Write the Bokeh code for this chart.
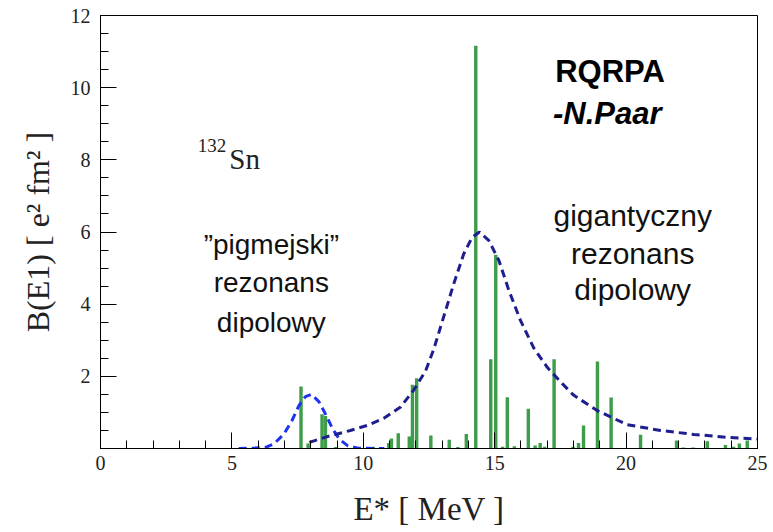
from bokeh.plotting import figure
from bokeh.models import Range1d, FixedTicker, ColumnDataSource
from bokeh.core.properties import value
from bokeh.embed import file_html
from bokeh.resources import INLINE

# RQRPA strength distribution (stick spectrum)
bar_E = [7.63, 7.90, 8.43, 8.56, 8.95, 10.38, 10.71, 10.97, 11.07, 11.33, 11.75, 11.87,
         12.03, 12.57, 13.27, 13.60, 13.92, 14.28, 14.85, 15.04, 15.30, 15.48, 15.75,
         16.28, 16.54, 16.73, 16.90, 17.26, 17.98, 18.19, 18.38, 18.91, 19.43, 20.55,
         21.92, 22.18, 22.55, 23.09, 23.78, 24.09, 24.31, 24.61]
bar_B = [1.72, 0.14, 0.95, 0.90, 0.04, 0.05, 0.04, 0.15, 0.28, 0.42, 0.33, 1.77,
         1.95, 0.36, 0.24, 0.04, 0.40, 11.16, 2.47, 5.37, 0.05, 1.42, 0.06,
         1.10, 0.08, 0.15, 0.05, 2.47, 0.05, 0.15, 0.64, 2.41, 1.41, 0.38,
         0.22, 0.03, 0.03, 0.20, 0.10, 0.05, 0.14, 0.22]

# pygmy dipole resonance envelope
pdr_E = [5.26, 5.83, 6.28, 6.60, 6.98, 7.29, 7.55, 7.80, 8.02, 8.31, 8.60, 8.85, 9.10, 9.40, 9.80, 10.50, 10.80]
pdr_B = [0.00, 0.01, 0.03, 0.13, 0.40, 0.78, 1.19, 1.44, 1.50, 1.30, 0.90, 0.52, 0.25, 0.08, 0.01, 0.00, 0.00]

# giant dipole resonance envelope
gdr_E = [7.95, 8.63, 9.51, 10.15, 10.78, 11.42, 11.92, 12.37, 12.68, 13.13, 13.44, 13.82, 14.14,
         14.42, 14.78, 15.16, 15.54, 15.98, 16.49, 17.00, 17.50, 18.00, 18.90, 20.04, 21.31,
         22.58, 23.85, 25.00]
gdr_B = [0.17, 0.33, 0.50, 0.64, 0.84, 1.15, 1.62, 2.15, 2.75, 3.82, 4.56, 5.39, 5.85,
         6.00, 5.76, 5.21, 4.38, 3.55, 2.78, 2.25, 1.85, 1.48, 1.05, 0.66, 0.50,
         0.39, 0.31, 0.26]

x_ticks = [0, 5, 10, 15, 20, 25]
x_minor = list(range(0, 26))
y_ticks = [2, 4, 6, 8, 10, 12]
y_minor = [i * 0.5 for i in range(0, 25)]

serif = "Liberation Serif"
sans = "Liberation Sans"

p = figure(width=773, height=532, output_backend="svg", toolbar_location=None,
           x_range=Range1d(0, 25), y_range=Range1d(0, 12),
           min_border_left=100, min_border_right=16, min_border_top=15, min_border_bottom=84)
p.grid.visible = False
p.outline_line_color = "black"
p.outline_line_width = 1
p.background_fill_color = "white"
p.border_fill_color = "white"

p.xaxis.ticker = FixedTicker(ticks=x_ticks, minor_ticks=x_minor)
p.yaxis.ticker = FixedTicker(ticks=y_ticks, minor_ticks=y_minor)
for ax in (p.xaxis[0], p.yaxis[0]):
    ax.major_tick_in = 16
    ax.major_tick_out = 0
    ax.minor_tick_in = 8
    ax.minor_tick_out = 0
    ax.axis_line_color = "black"
    ax.major_tick_line_color = "black"
    ax.minor_tick_line_color = "black"
    ax.major_label_text_font = serif
    ax.major_label_text_font_size = "20px"
    ax.major_label_text_color = "#222222"
    ax.axis_label_text_font = serif
    ax.axis_label_text_font_style = "normal"
    ax.axis_label_text_color = "#222222"

p.xaxis.axis_label_text_font_size = "33px"
p.yaxis.axis_label_text_font_size = "32px"
p.xaxis.major_label_standoff = 7
p.yaxis.major_label_standoff = 10
p.xaxis.axis_label = "E* [ MeV ]"
p.yaxis.axis_label = "B(E1) [ e² fm² ]"
p.xaxis.axis_label_standoff = 18
p.yaxis.axis_label_standoff = 12

src = ColumnDataSource(dict(x=bar_E, top=bar_B))
p.vbar(x="x", top="top", bottom=0, width=0.13, source=src, fill_color="#3e9c4a", line_color=None)

p.line(pdr_E, pdr_B, line_color="#1f33ee", line_width=3, line_dash="8 5")
p.line(gdr_E, gdr_B, line_color="#1e1e8e", line_width=3, line_dash="8 5")

# annotations
p.text(x=[17.3], y=[10.45], text=["RQRPA"], text_font=value(sans), text_font_style="bold",
       text_font_size="31px", text_align="left", text_baseline="middle", text_color="black")
p.text(x=[17.22], y=[9.28], text=["-N.Paar"], text_font=value(sans), text_font_style="bold italic",
       text_font_size="31px", text_align="left", text_baseline="middle", text_color="black")

p.text(x=[3.7], y=[8.4], text=["132"], text_font=value(serif), text_font_size="19px",
       text_align="left", text_baseline="alphabetic", text_color="#222222")
p.text(x=[4.9], y=[8.02], text=["Sn"], text_font=value(serif), text_font_size="29px",
       text_align="left", text_baseline="alphabetic", text_color="#222222")

pyg_lines = ["\u201dpigmejski\u201d", "rezonans", "dipolowy"]
pyg_y = [5.65, 4.6, 3.5]
p.text(x=[6.5] * 3, y=pyg_y, text=pyg_lines, text_font=value(sans), text_font_size="28px",
       text_align="center", text_baseline="middle", text_color="#111111")

gig_lines = ["gigantyczny", "rezonans", "dipolowy"]
gig_y = [6.45, 5.4, 4.4]
p.text(x=[20.25] * 3, y=gig_y, text=gig_lines, text_font=value(sans), text_font_size="30px",
       text_align="center", text_baseline="middle", text_color="#111111")

open("out.html", "w").write(file_html(p, INLINE))
